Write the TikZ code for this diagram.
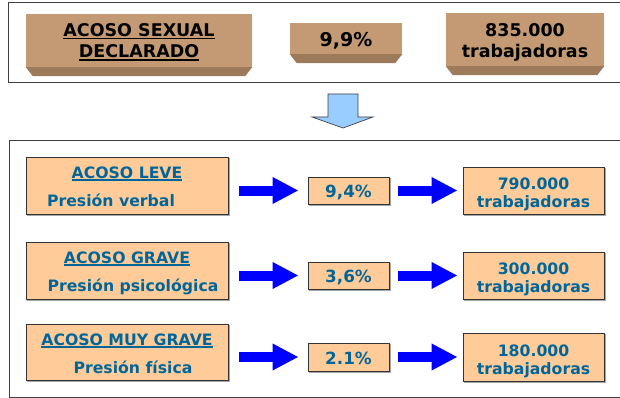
\documentclass[tikz,border=0pt]{standalone}
\usepackage{fontspec}
\setmainfont{DejaVu Sans}
\usetikzlibrary{arrows.meta,calc}
\definecolor{tanface}{RGB}{196,154,116}
\definecolor{tanside}{RGB}{156,122,90}
\definecolor{peach}{RGB}{255,204,153}
\definecolor{txtblue}{RGB}{0,102,153}
\definecolor{framegray}{RGB}{64,64,64}
\definecolor{lightblue}{RGB}{153,204,255}
\newcommand{\ulx}[1]{\setbox0\hbox{#1}\rlap{\rule[-2.6pt]{\wd0}{1.2pt}}\box0}
\begin{document}
\begin{tikzpicture}[x=1pt,y=-1pt,
  topbox/.style={fill=tanface, draw=none, inner sep=0pt},
  toptext/.style={font=\bfseries\fontsize{17.5}{21}\selectfont, inner sep=0pt, anchor=base},
  peachbox/.style={fill=peach, draw=black!80, line width=0.9pt, inner sep=0pt,
     preaction={draw=black!35, line width=1pt, transform canvas={xshift=1.2pt,yshift=-1.2pt}}},
  bluetext/.style={text=txtblue, font=\bfseries\fontsize{15.7}{20}\selectfont, inner sep=0pt, anchor=base},
  pcttext/.style={bluetext, font=\bfseries\fontsize{16.8}{20}\selectfont},
  bigarrow/.style={draw=blue, line width=10pt, -{Triangle[length=26pt,width=25pt]}},
  framebox/.style={draw=framegray, line width=0.8pt}
]
\useasboundingbox (0,0) rectangle (620,398);
% frames
\draw[framebox] (620,2.5) -- (8.5,2.5) -- (8.5,82.5) -- (620,82.5);
\draw[framebox] (620,140) -- (9,140) -- (9,397) -- (620,397);
% top boxes
\node[topbox, minimum width=226pt, minimum height=53pt] (sexual) at (139,40.5) {};
\fill[tanside] (sexual.south west) -- (sexual.south east) -- ($(sexual.south east)+(-7,9)$) -- ($(sexual.south west)+(7,9)$) -- cycle;
\node[toptext] (sexuala) at (139,36.5) {\ulx{ACOSO SEXUAL}};
\node[toptext] (sexualb) at (139,58) {\ulx{DECLARADO}};
\node[topbox, minimum width=112pt, minimum height=31pt] (pct) at (346,38.5) {};
\fill[tanside] (pct.south west) -- (pct.south east) -- ($(pct.south east)+(-7,9)$) -- ($(pct.south west)+(7,9)$) -- cycle;
\node[toptext, font=\bfseries\fontsize{19}{21}\selectfont] (pcta) at (346,47) {9,9\%};
\node[topbox, minimum width=158pt, minimum height=53pt] (total) at (525,39.5) {};
\fill[tanside] (total.south west) -- (total.south east) -- ($(total.south east)+(-7,9)$) -- ($(total.south west)+(7,9)$) -- cycle;
\node[toptext] (totala) at (525,36.5) {835.000};
\node[toptext] (totalb) at (525,58) {trabajadoras};
% down arrow
\draw[fill=lightblue, draw=framegray, line width=0.7pt] (328,94) -- (358,94) -- (358,117) -- (373,117) -- (343,128) -- (312,117) -- (328,117) -- cycle;
% row 1
\node[peachbox, minimum width=202pt, minimum height=57pt] (L1) at (127,185.5) {};
\node[bluetext] (L1t) at (127,178) {\ulx{ACOSO LEVE}};
\node[bluetext] (L1s) at (111,206) {Presión verbal};
\node[peachbox, minimum width=81pt, minimum height=27pt] (M1) at (348.5,190.5) {};
\node[pcttext] (M1t) at (348.5,197) {9,4\%};
\node[peachbox, minimum width=141pt, minimum height=47pt] (R1) at (533.5,190.5) {};
\node[bluetext] (R1a) at (533.5,189) {790.000};
\node[bluetext] (R1b) at (533.5,207.5) {trabajadoras};
\draw[bigarrow, shorten <=11pt, shorten >=9pt] (L1.east |- M1.west) -- (M1.west);
\draw[bigarrow, shorten <=9pt, shorten >=5pt] (M1.east) -- (R1.west |- M1.east);
% row 2
\node[peachbox, minimum width=202pt, minimum height=57pt] (L2) at (127,270.5) {};
\node[bluetext] (L2t) at (127,263) {\ulx{ACOSO GRAVE}};
\node[bluetext] (L2s) at (133,291) {Presión psicológica};
\node[peachbox, minimum width=81pt, minimum height=27pt] (M2) at (348.5,275.5) {};
\node[pcttext] (M2t) at (348.5,282) {3,6\%};
\node[peachbox, minimum width=141pt, minimum height=47pt] (R2) at (533.5,275.5) {};
\node[bluetext] (R2a) at (533.5,274) {300.000};
\node[bluetext] (R2b) at (533.5,292.5) {trabajadoras};
\draw[bigarrow, shorten <=11pt, shorten >=9pt] (L2.east |- M2.west) -- (M2.west);
\draw[bigarrow, shorten <=9pt, shorten >=5pt] (M2.east) -- (R2.west |- M2.east);
% row 3
\node[peachbox, minimum width=202pt, minimum height=56pt] (L3) at (127,352) {};
\node[bluetext] (L3t) at (127,345) {\ulx{ACOSO MUY GRAVE}};
\node[bluetext] (L3s) at (133,373) {Presión física};
\node[peachbox, minimum width=81pt, minimum height=28pt] (M3) at (348.5,357) {};
\node[pcttext] (M3t) at (348.5,364) {2.1\%};
\node[peachbox, minimum width=141pt, minimum height=48pt] (R3) at (533.5,357) {};
\node[bluetext] (R3a) at (533.5,356) {180.000};
\node[bluetext] (R3b) at (533.5,374.5) {trabajadoras};
\draw[bigarrow, shorten <=11pt, shorten >=9pt] (L3.east |- M3.west) -- (M3.west);
\draw[bigarrow, shorten <=9pt, shorten >=5pt] (M3.east) -- (R3.west |- M3.east);
\end{tikzpicture}
\end{document}
